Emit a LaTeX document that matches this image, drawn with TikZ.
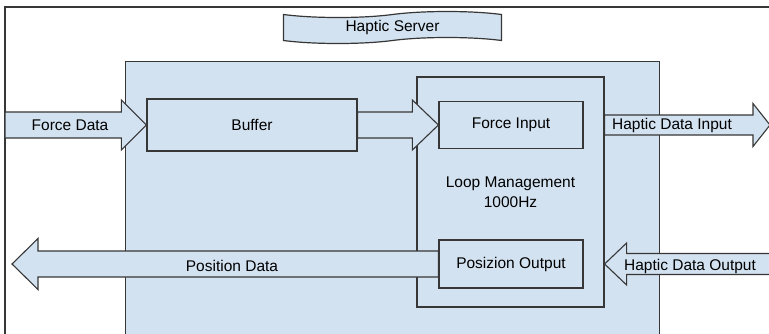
\documentclass[tikz,border=0pt]{standalone}
\usepackage{fontspec}
\setmainfont{Liberation Sans}
\usetikzlibrary{calc,shapes.symbols}
\definecolor{boxblue}{RGB}{211,226,240}
\definecolor{edge}{RGB}{55,55,55}
\begin{document}
\begin{tikzpicture}[x=1pt,y=-1pt,
  txt/.style={font=\fontsize{15.5}{19.5}\selectfont},
  box/.style={draw=edge,fill=boxblue,line width=1.2pt,inner sep=0pt,txt},
  fatarrow/.style={draw=edge,fill=boxblue,line width=1.1pt,line join=miter},
  lbl/.style={inner sep=0pt,txt}]
\useasboundingbox (0,0) rectangle (769,333);
\clip (0,0) rectangle (769,333);
\fill[white] (0,0) rectangle (769,333);
% outer frame (cropped)
\draw[edge,line width=1.2pt] (5,345) -- (5,7) -- (785,7);
% server area
\node[box,minimum width=534pt,minimum height=295pt,anchor=north west] (srv) at (125,61) {};
% title banner
\node[box,shape=tape,tape bend height=6pt,minimum width=218pt,minimum height=32pt] (title) at (392.5,27.5) {Haptic Server};
% blocks
\node[box,minimum width=187pt,minimum height=230pt,align=center] (loop) at (510.5,192) {Loop Management\\1000Hz};
\node[box,minimum width=210pt,minimum height=52pt] (buffer) at (252,125) {Buffer};
\node[box,minimum width=144pt,minimum height=47pt] (fin) at (511,125) {Force Input};
\node[box,minimum width=144pt,minimum height=48pt] (pout) at (511,264) {Posizion Output};
% free ends
\coordinate (fdstart) at (5,125);
\coordinate (hdiend) at (770,125);
\coordinate (hdistart) at (loop.east|-fin.east);
\coordinate (hdotip) at (loop.east|-pout.west);
\coordinate (hdoend) at (790,264);
\coordinate (pdtip) at (12,264);
% Force Data -> Buffer
\draw[fatarrow] ($(fdstart)+(0,-13)$) -- ($(buffer.west)+(-25,-13)$) -- ($(buffer.west)+(-25,-25)$) -- (buffer.west)
  -- ($(buffer.west)+(-25,25)$) -- ($(buffer.west)+(-25,13)$) -- ($(fdstart)+(0,13)$) -- cycle;
% Buffer -> Force Input
\draw[fatarrow] ($(buffer.east)+(0,-13)$) -- ($(fin.west)+(-26,-13)$) -- ($(fin.west)+(-26,-25)$) -- (fin.west)
  -- ($(fin.west)+(-26,25)$) -- ($(fin.west)+(-26,13)$) -- ($(buffer.east)+(0,13)$) -- cycle;
% Haptic Data Input (out to the right)
\draw[fatarrow] ($(hdistart)+(0,-10)$) -- ($(hdiend)+(-17,-10)$) -- ($(hdiend)+(-17,-21.5)$) -- (hdiend)
  -- ($(hdiend)+(-17,21.5)$) -- ($(hdiend)+(-17,10)$) -- ($(hdistart)+(0,10)$) -- cycle;
% Haptic Data Output (in from the right)
\draw[fatarrow] (hdotip) -- ($(hdotip)+(22,-21)$) -- ($(hdotip)+(22,-10.5)$) -- ($(hdoend)+(0,-10.5)$)
  -- ($(hdoend)+(0,10.5)$) -- ($(hdotip)+(22,10.5)$) -- ($(hdotip)+(22,21)$) -- cycle;
% Position Data (out to the left)
\draw[fatarrow] (pdtip) -- ($(pdtip)+(26,-25.5)$) -- ($(pdtip)+(26,-13)$) -- ($(pout.west)+(0,-13)$)
  -- ($(pout.west)+(0,13)$) -- ($(pdtip)+(26,13)$) -- ($(pdtip)+(26,25.5)$) -- cycle;
% labels
\node[lbl] (lfd) at (70,125) {Force Data};
\node[lbl] (lhdi) at (672,125) {Haptic Data Input};
\node[lbl] (lhdo) at (690,266) {Haptic Data Output};
\node[lbl] (lpd) at (232,266) {Position Data};
\end{tikzpicture}
\end{document}
